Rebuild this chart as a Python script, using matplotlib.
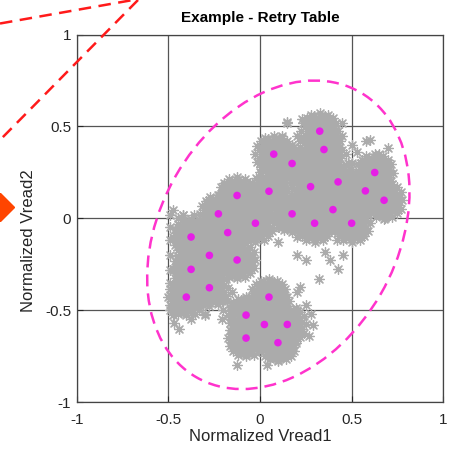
import matplotlib
matplotlib.use('Agg')
import matplotlib.pyplot as plt
from matplotlib.patches import Ellipse
from matplotlib.lines import Line2D

plt.rcParams['font.family'] = ['Liberation Sans', 'DejaVu Sans']

# retry table entries (magenta dots)
mag_x = [0.326, 0.349, 0.075, 0.175, 0.626, 0.426, 0.276, 0.575, 0.049, -0.125,
         0.677, 0.398, 0.175, -0.227, -0.025, 0.298, 0.5, -0.176, -0.376, -0.276,
         -0.125, -0.376, -0.276, -0.402, 0.049, -0.076, 0.024, 0.149, -0.076, 0.098]
mag_y = [0.474, 0.374, 0.349, 0.298, 0.249, 0.198, 0.172, 0.149, 0.147, 0.124,
         0.098, 0.047, 0.024, 0.024, -0.027, -0.027, -0.027, -0.078, -0.102, -0.202,
         -0.227, -0.278, -0.378, -0.429, -0.429, -0.527, -0.578, -0.578, -0.652, -0.677]

# spread of read samples around each entry
spread_dx = [-0.03, 0.0, 0.03,
             -0.06, -0.04, -0.02, 0.0, 0.02, 0.04, 0.06,
             -0.07, -0.05, -0.03, -0.01, 0.01, 0.03, 0.05, 0.07,
             -0.08, -0.06, -0.04, -0.02, 0.0, 0.02, 0.04, 0.06, 0.08,
             -0.07, -0.05, -0.03, -0.01, 0.01, 0.03, 0.05, 0.07,
             -0.08, -0.06, -0.04, -0.02, 0.0, 0.02, 0.04, 0.06, 0.08,
             -0.07, -0.05, -0.03, -0.01, 0.01, 0.03, 0.05, 0.07,
             -0.06, -0.04, -0.02, 0.0, 0.02, 0.04, 0.06,
             -0.03, 0.0, 0.03,
             0.1, -0.1, 0.0, 0.0, 0.07, -0.07, 0.07, -0.07,
             0.09, -0.09, 0.09, -0.09, 0.045, -0.045, 0.045, -0.045]
spread_dy = [0.08, 0.085, 0.08,
             0.06, 0.065, 0.06, 0.06, 0.065, 0.06, 0.055,
             0.04, 0.045, 0.04, 0.04, 0.045, 0.04, 0.04, 0.035,
             0.02, 0.025, 0.02, 0.02, 0.02, 0.025, 0.02, 0.02, 0.015,
             0.0, 0.005, 0.0, 0.0, 0.0, 0.005, 0.0, 0.0,
             -0.02, -0.025, -0.02, -0.02, -0.02, -0.015, -0.02, -0.02, -0.025,
             -0.04, -0.045, -0.04, -0.04, -0.04, -0.035, -0.04, -0.045,
             -0.06, -0.065, -0.06, -0.06, -0.06, -0.055, -0.06,
             -0.08, -0.085, -0.08,
             0.0, 0.0, 0.1, -0.1, 0.07, 0.07, -0.07, -0.07,
             0.045, 0.045, -0.045, -0.045, 0.09, 0.09, -0.09, -0.09]

# extra samples: cloud fill and stragglers
extra_x = [0.1, 0.2, 0.249, 0.324, 0.427, 0.451, 0.355, 0.382, -0.376, -0.476, -0.3, -0.209,
           0.145, 0.6, 0.7, -0.476, -0.42, -0.127, 0.036, 0.1, -0.3,
           0.12, 0.2, 0.25, 0.28, 0.29, 0.27, 0.2, 0.22, 0.16, 0.218, -0.18, -0.15, -0.2,
           -0.49, -0.49, -0.49, -0.49, -0.49, -0.49, -0.49, -0.49, -0.45, -0.45, -0.45, -0.45,
           -0.42, -0.36, -0.3, -0.3,
           0.2, 0.12, 0.25, 0.22, 0.1, 0.0, 0.48, 0.5, 0.45, 0.4, 0.55, 0.65, 0.5, 0.6, 0.45,
           0.35, 0.2, 0.1, 0.0, 0.05, 0.2, 0.35, 0.4, 0.3, 0.7, 0.15, 0.25,
           -0.15, -0.08, -0.05, -0.1, -0.3, -0.25, -0.3, -0.2, -0.35, -0.33, -0.42, -0.2, -0.05,
           -0.22, -0.33, 0.7, 0.68, 0.55, 0.42, 0.38, 0.23, 0.45, 0.58, -0.47, -0.44,
           0.47, 0.5, 0.53, 0.0, 0.02, 0.03, 0.22, 0.26, 0.3, 0.5, 0.6, 0.66]
extra_y = [-0.129, -0.2, -0.229, -0.329, -0.274, -0.2, -0.184, -0.229, -0.55, -0.529, -0.529, -0.547,
           0.525, 0.425, 0.38, 0.044, 0.016, -0.8, -0.8, -0.774, -0.52,
           -0.38, -0.4, -0.47, -0.52, -0.58, -0.64, -0.5, -0.6, -0.45, -0.374, -0.45, -0.4, -0.5,
           0.02, -0.05, -0.12, -0.2, -0.28, -0.35, -0.42, -0.5, 0.0, -0.15, -0.3, -0.45,
           0.02, 0.02, 0.03, -0.05,
           0.45, 0.45, 0.4, 0.24, 0.25, 0.25, 0.3, 0.4, 0.45, 0.5, 0.3, 0.35, 0.1, 0.05, -0.08,
           -0.1, -0.1, -0.05, 0.05, 0.0, 0.15, 0.1, 0.3, 0.28, 0.2, 0.52, 0.52,
           0.03, 0.05, 0.1, -0.05, 0.0, -0.1, -0.15, -0.2, -0.2, -0.3, -0.35, -0.3, -0.12,
           -0.38, -0.42, 0.3, 0.0, -0.08, -0.12, 0.53, 0.54, 0.52, 0.42, -0.57, -0.6,
           0.35, 0.3, 0.36, 0.3, 0.4, 0.22, 0.42, 0.38, 0.3, 0.08, 0.1, 0.05]

# ellipse bounding the table
ell_center = (0.1, -0.09)
ell_width = 1.79
ell_height = 1.29
ell_angle = 60

ticks = [-1, -0.5, 0, 0.5, 1]
tick_labels = ['-1', '-0.5', '0', '0.5', '1']

cloud_x = [cx + dx for cx in mag_x for dx in spread_dx]
cloud_y = [cy + dy for cy in mag_y for dy in spread_dy]
cloud_x += extra_x
cloud_y += extra_y

fig = plt.figure(figsize=(4.52, 4.54), dpi=100)
ax = fig.add_axes([0.1697, 0.1145, 0.811, 0.8095])

ax.set_axisbelow(True)
ax.grid(True, color='#555555', linewidth=0.9)
ax.scatter(cloud_x, cloud_y, marker=(8, 2, 0), s=50, linewidths=0.9,
           c='#ababab', zorder=2)
ax.scatter(mag_x, mag_y, s=30, c='#e61ee6', edgecolors='none', zorder=3)
ax.add_patch(Ellipse(ell_center, ell_width, ell_height, angle=ell_angle, fill=False,
                     edgecolor='#ff33cc', linewidth=1.8, linestyle=(0, (4.8, 2.8)), zorder=4))

ax.set_xlim(-1, 1)
ax.set_ylim(-1, 1)
ax.set_xticks(ticks)
ax.set_xticklabels(tick_labels)
ax.set_yticks(ticks)
ax.set_yticklabels(tick_labels)
ax.tick_params(direction='in', length=4, colors='#262626', labelsize=11, width=0.8)
ax.tick_params(axis='x', pad=8)
ax.tick_params(axis='y', pad=4)
for s in ax.spines.values():
    s.set_color('#444444')
    s.set_linewidth(0.9)

ax.set_title('Example - Retry Table', fontsize=11, fontweight='bold', pad=9)
ax.set_xlabel('Normalized Vread1', fontsize=12, color='#262626')
ax.set_ylabel('Normalized Vread2', fontsize=12, color='#262626')
ax.xaxis.set_label_coords(0.5, -0.0735)
ax.yaxis.set_label_coords(-0.111, 0.438)

# pieces of the neighbouring figure that reach into this crop
W, H = 452, 454
fig.add_artist(Line2D([0 / W, 133 / W], [1 - 23.5 / H, 1 - 0 / H], color='#ff1a1a',
                      linewidth=1.8, linestyle=(0, (5, 3))))
fig.add_artist(Line2D([138 / W, 0 / W], [1 - 0 / H, 1 - 140 / H], color='#ff1a1a',
                      linewidth=1.8, linestyle=(0, (5, 3))))
fig.add_artist(Line2D([0], [1 - 207 / H], marker='D', markersize=14, color='#ff4500',
                      linestyle='none', transform=fig.transFigure))

fig.savefig('out.png', dpi=100)
